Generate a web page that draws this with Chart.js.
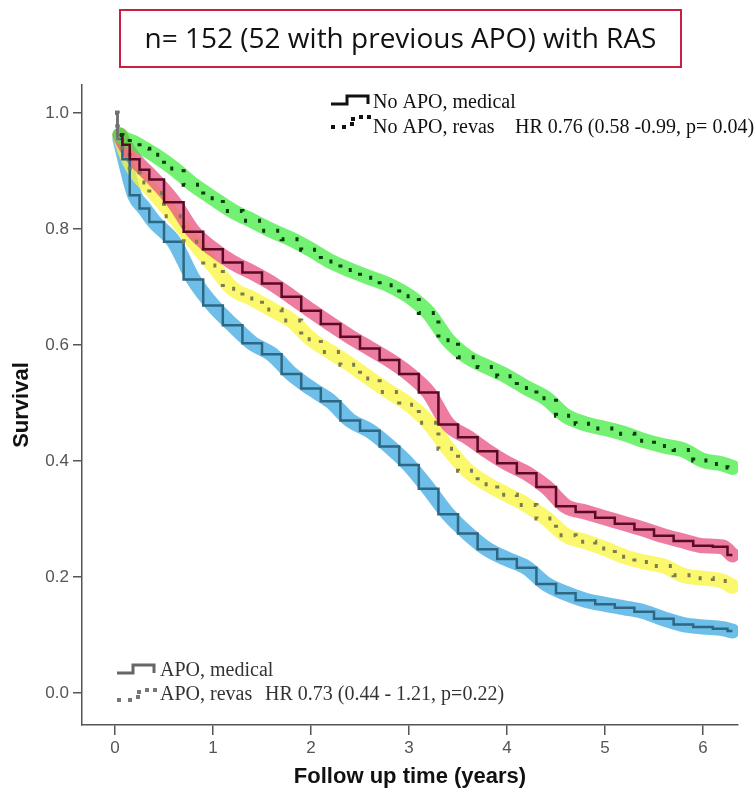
<!DOCTYPE html>
<html>
<head>
<meta charset="utf-8">
<script src="https://cdn.jsdelivr.net/npm/chart.js@4.4.1/dist/chart.umd.min.js"></script>
<style>
  html, body { margin: 0; padding: 0; background: #fff; }
  #wrap { position: relative; width: 756px; height: 794px; }
  #km { position: absolute; left: 0; top: 0; }
  #caption {
    position: absolute; left: 119px; top: 9px; width: 563px; height: 59px;
    box-sizing: border-box; border: 2px solid #c8203e;
    font-family: "Open Sans", sans-serif; font-size: 28px; color: #111;
    text-align: center; line-height: 52px; white-space: nowrap;
  }
</style>
</head>
<body>
<div id="wrap">
  <canvas id="km" width="756" height="794"></canvas>
  <div id="caption">n= 152 (52 with previous APO) with RAS</div>
</div>
<script>
// follow-up time (years) and survival for each group
const years = [0, 0.05, 0.1, 0.2, 0.3, 0.4, 0.6, 0.8, 1.0, 1.2, 1.4, 1.6, 1.8, 2.0, 2.2, 2.4, 2.6, 2.8,
  3.0, 3.2, 3.4, 3.6, 3.8, 4.0, 4.2, 4.4, 4.6, 4.8, 5.0, 5.2, 5.4, 5.6, 5.8, 6.0, 6.2, 6.3];
const noApoRevas = [1.0, 0.962, 0.955, 0.948, 0.938, 0.928, 0.904, 0.876, 0.853, 0.831, 0.814, 0.797,
  0.782, 0.764, 0.744, 0.729, 0.716, 0.703, 0.684, 0.655, 0.608, 0.579, 0.562, 0.546, 0.526, 0.508,
  0.478, 0.464, 0.456, 0.447, 0.435, 0.426, 0.419, 0.401, 0.395, 0.389];
const noApoMedical = [1.0, 0.962, 0.945, 0.920, 0.902, 0.885, 0.846, 0.795, 0.765, 0.742, 0.725, 0.706,
  0.683, 0.659, 0.636, 0.614, 0.594, 0.574, 0.550, 0.518, 0.463, 0.441, 0.417, 0.396, 0.379, 0.355,
  0.322, 0.312, 0.302, 0.292, 0.282, 0.271, 0.262, 0.254, 0.252, 0.238];
const apoRevas = [1.0, 0.962, 0.935, 0.900, 0.880, 0.862, 0.822, 0.778, 0.737, 0.697, 0.680, 0.661,
  0.642, 0.610, 0.588, 0.566, 0.542, 0.519, 0.497, 0.466, 0.421, 0.383, 0.360, 0.342, 0.324, 0.301,
  0.272, 0.261, 0.249, 0.235, 0.226, 0.219, 0.203, 0.198, 0.193, 0.184];
const apoMedical = [1.0, 0.955, 0.920, 0.858, 0.835, 0.812, 0.778, 0.713, 0.668, 0.634, 0.603, 0.584,
  0.550, 0.525, 0.503, 0.470, 0.452, 0.425, 0.393, 0.352, 0.308, 0.275, 0.248, 0.231, 0.216, 0.188,
  0.172, 0.160, 0.153, 0.147, 0.140, 0.128, 0.118, 0.114, 0.111, 0.107];

const xTicks = [0, 1, 2, 3, 4, 5, 6];
const yTicks = [0, 0.2, 0.4, 0.6, 0.8, 1.0];

const sans = "'Liberation Sans', Arial, sans-serif";
const serif = "'Liberation Serif', 'Times New Roman', serif";

function pts(vals) {
  return years.map((t, i) => ({ x: t, y: vals[i] }));
}

// highlighter band behind each curve (skips the shared drop at t=0)
function band(vals, color) {
  return {
    data: pts(vals).slice(1), borderColor: color, borderWidth: 15,
    tension: 0.4, cubicInterpolationMode: 'monotone', pointRadius: 0,
    borderCapStyle: 'round', borderJoinStyle: 'round', order: 1
  };
}

function curve(vals, color, dotted) {
  return {
    data: pts(vals), borderColor: color, borderWidth: dotted ? 4 : 2.5,
    borderDash: dotted ? [3, 11] : [], stepped: 'middle', pointRadius: 0, order: 0,
    // first drop is shared by all groups, drawn grey
    segment: { borderColor: c => c.p0DataIndex === 0 ? '#707070' : undefined }
  };
}

// legend keys and labels drawn straight on the canvas
const kmLegend = {
  id: 'kmLegend',
  afterDraw(chart) {
    const ctx = chart.ctx;
    ctx.save();

    function stepKey(x0, y0, color) {
      ctx.strokeStyle = color;
      ctx.lineWidth = 3;
      ctx.beginPath();
      ctx.moveTo(x0, y0 + 8);
      ctx.lineTo(x0 + 16, y0 + 8);
      ctx.lineTo(x0 + 16, y0);
      ctx.lineTo(x0 + 37, y0);
      ctx.lineTo(x0 + 37, y0 + 8);
      ctx.stroke();
    }
    function dotKey(x0, y0, color) {
      ctx.fillStyle = color;
      [[0, 0], [11, 0], [19, -3], [20, -8], [28, -10], [36, -10]].forEach(d => {
        ctx.fillRect(x0 + d[0], y0 + d[1], 4, 4);
      });
    }

    stepKey(331, 96, '#111');
    dotKey(331, 125, '#111');
    stepKey(117, 665, '#666');
    dotKey(117, 698, '#777');

    ctx.font = '20px ' + serif;
    ctx.textBaseline = 'alphabetic';
    ctx.fillStyle = '#111';
    ctx.fillText('No APO, medical', 373, 108);
    ctx.fillText('No APO, revas', 373, 133);
    ctx.fillText('HR 0.76 (0.58 -0.99, p= 0.04)', 515, 133);
    ctx.fillStyle = '#333';
    ctx.fillText('APO, medical', 160, 676);
    ctx.fillText('APO, revas', 160, 700);
    ctx.fillText('HR 0.73 (0.44 - 1.21, p=0.22)', 265, 700);
    ctx.restore();
  }
};

new Chart(document.getElementById('km'), {
  type: 'line',
  data: {
    datasets: [
      curve(noApoRevas, '#0b3a0b', true),
      curve(noApoMedical, '#5a0a24', false),
      curve(apoRevas, '#7a7a55', true),
      curve(apoMedical, '#2e6784', false),
      band(noApoRevas, 'rgba(60,235,60,0.72)'),
      band(noApoMedical, 'rgba(232,80,130,0.75)'),
      band(apoRevas, 'rgba(250,245,60,0.75)'),
      band(apoMedical, 'rgba(60,170,225,0.75)')
    ]
  },
  options: {
    responsive: false,
    animation: false,
    devicePixelRatio: 1,
    layout: { padding: { left: 0, top: 85, right: 18, bottom: 0 } },
    plugins: { legend: { display: false }, tooltip: { enabled: false } },
    scales: {
      x: {
        type: 'linear', min: -0.337, max: 6.357,
        afterBuildTicks: s => { s.ticks = xTicks.map(v => ({ value: v })); },
        afterFit: s => { s.height = 69; },
        grid: { drawOnChartArea: false, tickLength: 10, color: '#555', lineWidth: 1.5 },
        border: { color: '#555', width: 1.5 },
        ticks: { color: '#555', font: { family: sans, size: 17 }, padding: 3, callback: v => String(v) },
        title: {
          display: true, text: 'Follow up time (years)', color: '#111',
          font: { family: sans, size: 22, weight: 'bold' }, padding: { top: 0, bottom: 4 }
        }
      },
      y: {
        type: 'linear', min: -0.055, max: 1.048,
        afterBuildTicks: s => { s.ticks = yTicks.map(v => ({ value: v })); },
        afterFit: s => { s.width = 82; },
        grid: { drawOnChartArea: false, tickLength: 9, color: '#555', lineWidth: 1.5 },
        border: { color: '#555', width: 1.5 },
        ticks: { color: '#555', font: { family: sans, size: 17 }, padding: 4, callback: v => v.toFixed(1) },
        title: {
          display: true, text: 'Survival', color: '#111',
          font: { family: sans, size: 22, weight: 'bold' }, padding: { top: 9, bottom: 0 }
        }
      }
    }
  },
  plugins: [kmLegend]
});
</script>
</body>
</html>
